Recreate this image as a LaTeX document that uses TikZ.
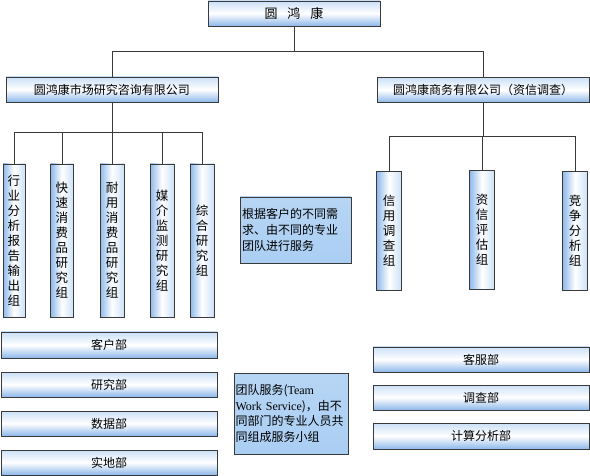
\documentclass[tikz,border=0pt]{standalone}
\usepackage{fontspec}
\setmainfont{Noto Sans CJK SC}
\newfontfamily\latinserif{Liberation Serif}
\definecolor{bluedark}{HTML}{8DB8EA}
\definecolor{bluelight}{HTML}{CBE0F7}
\definecolor{boxblue}{HTML}{AACEF3}
\definecolor{linegray}{HTML}{3A3A3A}
\tikzset{
  base/.style={draw=linegray, line width=0.8pt, inner sep=0pt, outer sep=0pt, text=black},
  hbox/.style={base, rectangle, top color=bluelight, bottom color=bluedark, middle color=white, font=\fontsize{12}{14}\selectfont},
  vbox/.style={base, rectangle, left color=bluedark, right color=bluelight, middle color=white, align=center, font=\fontsize{12.5}{15}\selectfont},
  tbox/.style={base, rectangle, top color=boxblue!85!white, bottom color=boxblue, align=left, font=\fontsize{12}{16}\selectfont, text width=#1},
  conn/.style={draw=linegray, line width=0.8pt}
}
\begin{document}
\begin{tikzpicture}[x=1pt, y=-1pt]
\useasboundingbox (0,0) rectangle (590,476);
% top
\node[hbox, minimum width=172pt, minimum height=25pt, font=\fontsize{13}{15}\selectfont] (top) at (294,13.5) {圆\hspace{10pt}鸿\hspace{10pt}康};
% companies
\node[hbox, minimum width=212pt, minimum height=25pt] (lc) at (112,89.5) {圆鸿康市场研究咨询有限公司};
\node[hbox, minimum width=212pt, minimum height=25pt] (rc) at (483,90) {圆鸿康商务有限公司（资信调查）};
% left groups
\node[vbox, minimum width=22pt, minimum height=153pt] (b1) at (14,240.5) {行\\业\\分\\析\\报\\告\\输\\出\\组};
\node[vbox, minimum width=23pt, minimum height=153pt] (b2) at (62,240.5) {快\\速\\消\\费\\品\\研\\究\\组};
\node[vbox, minimum width=24pt, minimum height=153pt] (b3) at (112,240.5) {耐\\用\\消\\费\\品\\研\\究\\组};
\node[vbox, minimum width=24pt, minimum height=153pt] (b4) at (162,240.5) {媒\\介\\监\\测\\研\\究\\组};
\node[vbox, minimum width=24pt, minimum height=153pt] (b5) at (202,240.5) {综\\合\\研\\究\\组};
% right groups
\node[vbox, minimum width=25pt, minimum height=119pt] (r1) at (389,231) {信\\用\\调\\查\\组};
\node[vbox, minimum width=25pt, minimum height=119pt] (r2) at (482,230) {资\\信\\评\\估\\组};
\node[vbox, minimum width=25pt, minimum height=119pt] (r3) at (575,231) {竞\\争\\分\\析\\组};
% text boxes
\node[tbox=107pt, minimum width=111pt, minimum height=66pt] (note1) at (295.5,230) {根据客户的不同需\\求、由不同的专业\\团队进行服务};
\node[tbox=111pt, minimum width=114pt, minimum height=81pt, font=\fontsize{12}{15.5}\selectfont] (note2) at (291,413.5) {团队服务({\latinserif Team}\\{\latinserif Work Service})，由不\\同部门的专业人员共\\同组成服务小组};
% left departments
\node[hbox, minimum width=216pt, minimum height=26pt] (d1) at (109,345) {客户部};
\node[hbox, minimum width=216pt, minimum height=25pt] (d2) at (109,384.5) {研究部};
\node[hbox, minimum width=216pt, minimum height=25pt] (d3) at (109,423.5) {数据部};
\node[hbox, minimum width=216pt, minimum height=25pt] (d4) at (109,462.5) {实地部};
% right departments
\node[hbox, minimum width=216pt, minimum height=25pt] (e1) at (481,359.5) {客服部};
\node[hbox, minimum width=216pt, minimum height=25pt] (e2) at (481,397.5) {调查部};
\node[hbox, minimum width=216pt, minimum height=26pt] (e3) at (481,436) {计算分析部};
% connectors
\coordinate (topbus) at (294,51);
\coordinate (lbus) at (112,132);
\coordinate (rbus) at (483,136);
\draw[conn] (top.south) -- (topbus);
\draw[conn] (lc.north) |- (topbus);
\draw[conn] (rc.north) |- (topbus);
\draw[conn] (lc.south) -- (lbus);
\foreach \b in {b1,b2,b3,b4,b5} \draw[conn] (\b.north) |- (lbus);
\draw[conn] (rc.south) -- (rbus);
\foreach \b in {r1,r2,r3} \draw[conn] (\b.north) |- (rbus);
\end{tikzpicture}
\end{document}
